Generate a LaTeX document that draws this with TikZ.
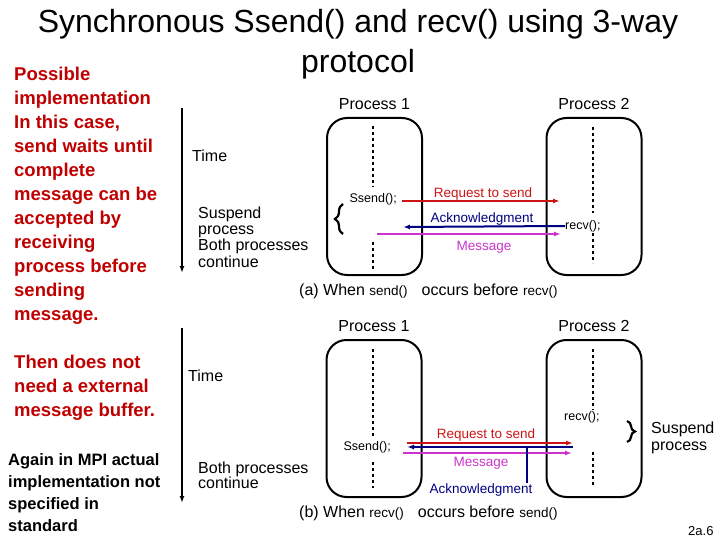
\documentclass[tikz,border=0pt]{standalone}
\usepackage{fontspec}
\setmainfont{Liberation Sans}
\usetikzlibrary{arrows.meta,positioning,decorations.pathreplacing}
\definecolor{darkred}{RGB}{192,0,0}
\definecolor{reqred}{RGB}{204,20,20}
\definecolor{acknavy}{RGB}{0,0,128}
\definecolor{msgpink}{RGB}{204,51,204}

\begin{document}
\begin{tikzpicture}[x=1pt,y=-1pt,>={Latex[length=7pt,width=5pt]}]
    \tikzset{proc/.style= {draw, rectangle
    , rounded corners=20pt
    , line width=2pt
    , minimum width=95pt
    , minimum height=157pt
      },
    lbl/.style={inner sep=0pt, font=\fontsize{16}{16.3}\selectfont},
    call/.style={inner sep=0pt, font=\fontsize{12.5}{13}\selectfont},
    msg/.style={inner sep=0pt, anchor=base, font=\fontsize{13.5}{14}\selectfont},
    note/.style={inner sep=0pt, anchor=base west, align=left, text=darkred
    , font=\bfseries\fontsize{18.5}{24}\selectfont},
    dots/.style={line width=2.6pt, dash pattern=on 2.6pt off 3.4pt},
    timeline/.style={draw, line width=2pt, ->},
    sig/.style={line width=2pt, ->},
    curly/.style={line width=2.2pt, decorate, decoration={brace, amplitude=8pt}}
    }
\useasboundingbox (0,0) rectangle (720,540);

% title and side notes (base = last line)
\node [inner sep=0pt, anchor=base, align=center, font=\fontsize{32}{40}\selectfont]
  (title) at (358,73) {Synchronous Ssend() and recv() using 3-way\\protocol};
\node [note] (why) at (14,320.5) {Possible\\implementation\\In this case,\\send waits until\\complete\\message can be\\accepted by\\receiving\\process before\\sending\\message.};
\node [note] (buffer) at (14,416.5) {Then does not\\need a external\\message buffer.};
\node [note, text=black, font=\bfseries\fontsize{16.5}{21.7}\selectfont] (mpi) at (8,531) {Again in MPI actual\\implementation not\\specified in\\standard};

% (a) send() before recv()
\node [proc] (procA1) at (374.5,196.5) {};
\node [proc] (procA2) at (594,196.5) {};
\node [lbl, above=7pt of procA1] (nameA1) {Process 1};
\node [lbl, above=7pt of procA2] (nameA2) {Process 2};
\draw [dots] (373,126) -- (373,187) (373,242) -- (373,271);
\draw [dots] (593,127) -- (593,213) (593,233) -- (593,263);
\node [call, anchor=east] (sendA) at (397,199) {Ssend();};
\node [call, anchor=west] (recvA) at (565,226) {recv();};

\coordinate (reqA) at (560,201);
\coordinate (ackA) at (403,227);
\coordinate (msgA0) at (377,234);
\coordinate (msgA1) at (561,234);
\draw [sig, reqred] ([xshift=5pt,yshift=-2pt]sendA.east) -- (reqA);
\draw [sig, acknavy] (recvA.west) -- (ackA);
\draw [sig, msgpink] (msgA0) -- (msgA1);
\node [msg, text=reqred] (reqlblA) at (483,197) {Request to send};
\node [msg, text=acknavy] (acklblA) at (482,222.5) {Acknowledgment};
\node [msg, text=msgpink] (msglblA) at (484,250) {Message};

\draw [timeline] (182,108) -- (182,273);
\node [lbl, anchor=base west] (timeA) at (192,162) {Time};
\node [lbl, anchor=base west, align=left] (waitA) at (198,267) {Suspend\\process\\Both processes\\continue};
\draw [curly] (343,234) -- (343,204);
\node [lbl, anchor=base west] (capA) at (299,295)
  {(a) When {\fontsize{13.5}{14}\selectfont send()}\hspace{14pt}occurs before {\fontsize{13.5}{14}\selectfont recv()}};

% (b) recv() before send()
\node [proc] (procB1) at (374,418.5) {};
\node [proc] (procB2) at (594,418.5) {};
\node [lbl, above=7pt of procB1] (nameB1) {Process 1};
\node [lbl, above=7pt of procB2] (nameB2) {Process 2};
\draw [dots] (373,349) -- (373,436) (373,462) -- (373,488);
\draw [dots] (593,349) -- (593,410) (593,452) -- (593,487);
\node [call, anchor=east] (sendB) at (391,447) {Ssend();};
\node [call, anchor=west] (recvB) at (564,417) {recv();};

\coordinate (reqB0) at (407,443);
\coordinate (reqB1) at (573,443);
\coordinate (ackB0) at (573,447);
\coordinate (ackB1) at (407,447);
\coordinate (msgB0) at (403,453);
\coordinate (msgB1) at (572,453);
\coordinate (tapB) at (527,447);
\draw [sig, reqred] (reqB0) -- (reqB1);
\draw [sig, acknavy] (ackB0) -- (ackB1);
\draw [sig, msgpink] (msgB0) -- (msgB1);
\node [msg, text=reqred] (reqlblB) at (486,438) {Request to send};
\node [msg, text=msgpink] (msglblB) at (481,466.5) {Message};
\node [msg, text=acknavy] (acklblB) at (481,493) {Acknowledgment};
\draw [acknavy, line width=2pt] (tapB) -- (tapB |- acklblB.north);

\draw [timeline] (182,328) -- (182,503);
\node [lbl, anchor=base west] (timeB) at (188,381) {Time};
\node [lbl, anchor=base west, align=left, font=\fontsize{16}{15.5}\selectfont] (goB) at (198,488.5) {Both processes\\continue};
\draw [curly] (627,421) -- (627,442);
\node [lbl, anchor=base west, align=left, font=\fontsize{16}{17}\selectfont] (waitB) at (651,450) {Suspend\\process};
\node [lbl, anchor=base west] (capB) at (299,517)
  {(b) When {\fontsize{13.5}{14}\selectfont recv()}\hspace{14pt}occurs before {\fontsize{13.5}{14}\selectfont send()}};

\node [inner sep=0pt, anchor=base west, font=\fontsize{13}{14}\selectfont] (slide) at (688,535) {2a.6};
\end{tikzpicture}
\end{document}
